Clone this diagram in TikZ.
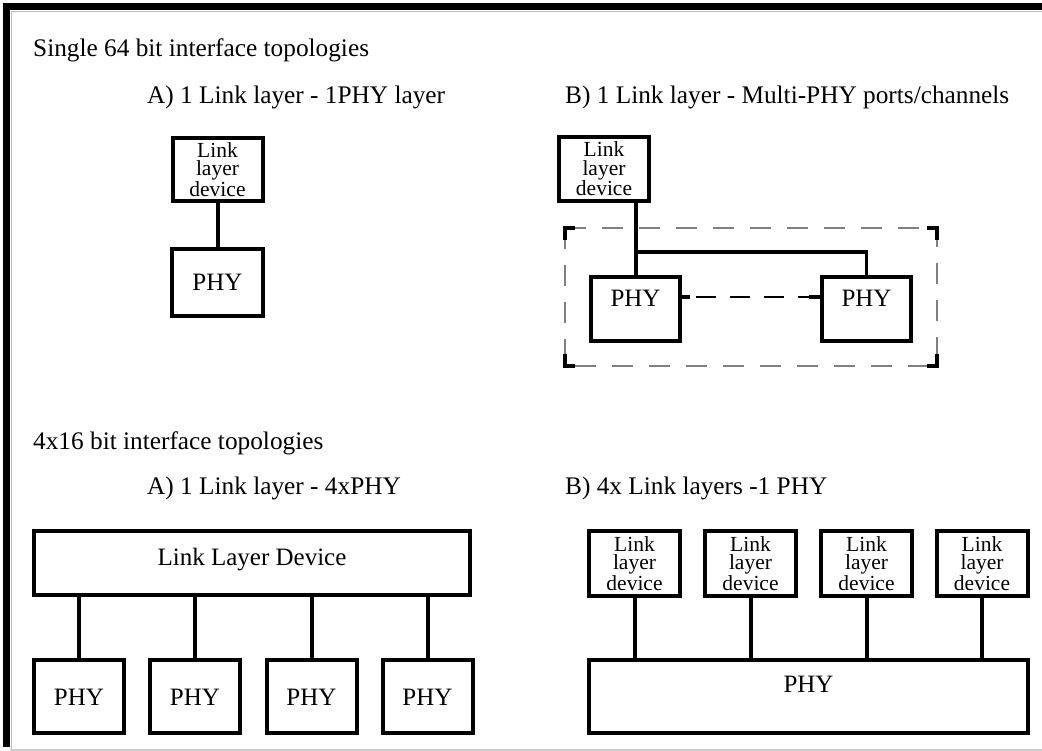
\documentclass[tikz,border=0pt]{standalone}
\usepackage{fontspec}
\setmainfont{Liberation Serif}
\begin{document}
\begin{tikzpicture}[x=1pt,y=-1pt,
  title/.style={anchor=base west,inner sep=0pt,font=\fontsize{25.3}{27}\selectfont},
  boxbase/.style={draw=black,line width=4pt,rectangle,inner sep=0pt,align=center},
  lnkbox/.style={boxbase,minimum width=90pt,minimum height=64pt,font=\fontsize{21.5}{18.6}\selectfont},
  phybox/.style={boxbase,font=\fontsize{25}{27}\selectfont,text height=17pt,text depth=0pt},
  wire/.style={line width=4pt},
  grayframe/.style={draw=gray,line width=1.2pt,dash pattern=on 21pt off 16pt},
  corner/.style={line width=4pt},
  dwire/.style={line width=2pt,dash pattern=on 20pt off 14pt}
]
\useasboundingbox (0,0) rectangle (1042,751);
% frame
\draw[gray!50,line width=1.2pt] (11.5,1042) -- (11.5,11.5) -- (1042,11.5);
\draw[gray!40,line width=2pt] (10,749.5) -- (1042,749.5);
\draw[line width=7pt] (3,6.5) -- (1042,6.5);
\draw[line width=7pt] (6.5,3) -- (6.5,747);

% titles
\node[title] (t1) at (33,57) {Single 64 bit interface topologies};
\node[title] (t2) at (147,104) {A) 1 Link layer - 1PHY layer};
\node[title] (t3) at (565,104) {B) 1 Link layer - Multi-PHY ports/channels};
\node[title] (t4) at (33,449) {4x16 bit interface topologies};
\node[title] (t5) at (147,494) {A) 1 Link layer - 4xPHY};
\node[title] (t6) at (565,494) {B) 4x Link layers -1 PHY};

% A top
\node[lnkbox,minimum width=90pt,minimum height=63pt] (lnkA) at (217.5,169.5) {Link\\layer\\device};
\node[phybox,minimum width=91pt,minimum height=67pt] (phyA) at (217.5,282.5) {PHY};
\draw[wire] (lnkA.south) -- (phyA.north);

% B top
\node[lnkbox] (lnkB) at (604,169) {Link\\layer\\device};
\node[phybox,minimum width=89pt,minimum height=64pt,text depth=22pt] (phyB1) at (635.5,309) {PHY};
\node[phybox,minimum width=89pt,minimum height=64pt,text depth=22pt] (phyB2) at (866.5,309) {PHY};
\draw[wire] (phyB1.north |- lnkB.south) -- (phyB1.north);
\coordinate (br) at (635.5,252);
\draw[line width=3.5pt] (br) -| (phyB2.north);
% dashed link between PHYs
\coordinate (d1) at ([yshift=12pt]phyB1.east);
\coordinate (d2) at ([yshift=12pt]phyB2.west);
\draw[line width=4pt] (d1) -- ++(8,0) coordinate (d1e);
\draw[line width=4pt] (d2) -- ++(-11,0) coordinate (d2e);
\draw[dwire] ([xshift=6pt]d1e) -- (d2e);
% dashed frame with corner marks
\coordinate (fa) at (565,228);
\coordinate (fb) at (937,366);
\draw[grayframe] (fa) rectangle (fb);
\draw[corner] (565,240) -- (565,228) -- (575,228);
\draw[corner] (927,228) -- (937,228) -- (937,240);
\draw[corner] (565,354) -- (565,366) -- (575,366);
\draw[corner] (927,366) -- (937,366) -- (937,354);

% A bottom
\node[boxbase,minimum width=436pt,minimum height=64pt,font=\fontsize{25}{27}\selectfont,text height=17pt,text depth=12pt] (lld) at (252,563) {Link Layer Device};
\foreach \i/\x in {1/79,2/195,3/311.5,4/427.5}{
  \node[phybox,minimum width=90pt,minimum height=73pt] (pa\i) at (\x,696.5) {PHY};
  \draw[wire] (lld.south -| pa\i.north) -- (pa\i.north);
}

% B bottom
\node[phybox,minimum width=439pt,minimum height=73pt,text depth=26pt] (pb) at (808.5,696.5) {PHY};
\foreach \i/\x in {1/634.5,2/750.5,3/866.5,4/982}{
  \node[lnkbox,minimum width=91pt,minimum height=65pt] (lb\i) at (\x,563.5) {Link\\layer\\device};
  \draw[wire] (lb\i.south) -- (lb\i.south |- pb.north);
}
\end{tikzpicture}
\end{document}
